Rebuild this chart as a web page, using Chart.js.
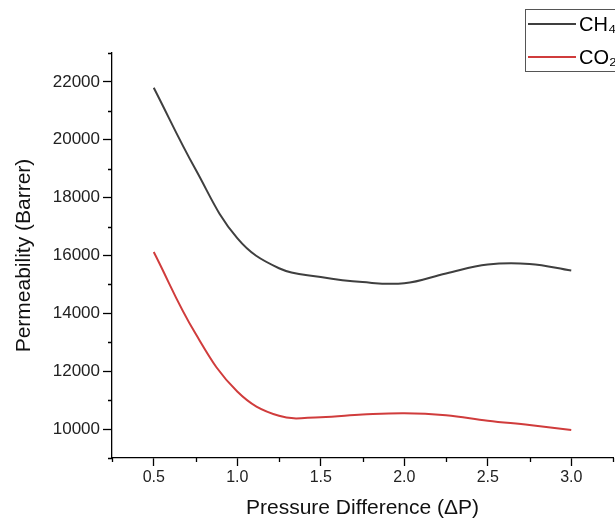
<!DOCTYPE html>
<html>
<head>
<meta charset="utf-8">
<script src="https://cdn.jsdelivr.net/npm/chart.js@4"></script>
<style>
    html, body { margin: 0; padding: 0; background: #fff; overflow: hidden; }
    canvas { display: block; }
</style>
</head>
<body>
<canvas id="perm-chart" width="615" height="525"></canvas>
<script>
// Pressure difference steps (x axis)
const pressureDiff = [0.5, 0.75, 1.0, 1.25, 1.5, 1.75, 2.0, 2.25, 2.5, 2.75, 3.0];

// Permeability in Barrer for each gas
const ch4Values = [21800, 18980, 16600, 15560, 15260, 15080, 15040, 15380, 15690, 15710, 15480];
const co2Values = [16120, 13300, 11300, 10460, 10410, 10500, 10550, 10480, 10290, 10140, 9970];

const seriesNames = ['CH\u2084', 'CO\u2082'];
const seriesColors = ['#3f3f3f', '#d03c3c'];

const FONT = 'Arial, "Liberation Sans", sans-serif';

const toPoints = (values) => pressureDiff.map((x, i) => ({ x: x, y: values[i] }));

// minor tick = label is empty
const isMajorX = (v) => Math.abs(v * 2 - Math.round(v * 2)) < 1e-6 && v > 0.3 && v < 3.1;
const isMajorY = (v) => Math.round(v / 1000) % 2 === 0;

// Short ticks for the minor steps, plus the boxed legend in the corner
const extrasPlugin = {
    id: 'extras',
    afterDraw(chart) {
        const ctx = chart.ctx;
        const { x, y } = chart.scales;
        const area = chart.chartArea;

        ctx.save();
        ctx.strokeStyle = '#000';
        ctx.lineWidth = 1.3;
        ctx.beginPath();
        x.ticks.forEach((t) => {
            if (isMajorX(t.value)) return;
            const px = Math.round(x.getPixelForValue(t.value)) + 0.5;
            ctx.moveTo(px, area.bottom);
            ctx.lineTo(px, area.bottom + 4);
        });
        y.ticks.forEach((t) => {
            if (isMajorY(t.value)) return;
            const py = Math.round(y.getPixelForValue(t.value)) + 0.5;
            ctx.moveTo(area.left, py);
            ctx.lineTo(area.left - 4, py);
        });
        ctx.stroke();

        // legend
        ctx.strokeStyle = '#555';
        ctx.lineWidth = 1;
        ctx.strokeRect(525.5, 9.5, 120, 62);
        ctx.font = '20px ' + FONT;
        ctx.textBaseline = 'middle';
        ctx.textAlign = 'left';
        const rows = [24, 57];
        chart.data.datasets.forEach((ds, i) => {
            ctx.strokeStyle = ds.borderColor;
            ctx.lineWidth = 2;
            ctx.beginPath();
            ctx.moveTo(528, rows[i]);
            ctx.lineTo(576, rows[i]);
            ctx.stroke();
            ctx.fillStyle = '#000';
            ctx.fillText(ds.label, 579, rows[i] + 1);
        });
        ctx.restore();
    },
};

const config = {
    type: 'line',
    data: {
        datasets: [
            {
                label: seriesNames[0],
                data: toPoints(ch4Values),
                borderColor: seriesColors[0],
                borderWidth: 2,
                pointRadius: 0,
                tension: 0.4,
            },
            {
                label: seriesNames[1],
                data: toPoints(co2Values),
                borderColor: seriesColors[1],
                borderWidth: 2,
                pointRadius: 0,
                tension: 0.4,
            },
        ],
    },
    options: {
        responsive: false,
        animation: false,
        layout: {
            padding: { top: 53, right: 1, left: 0, bottom: 0 },
        },
        plugins: {
            legend: { display: false },
            tooltip: { enabled: false },
        },
        scales: {
            x: {
                type: 'linear',
                min: 0.25,
                max: 3.25,
                afterFit: (scale) => { scale.height = 67; },
                border: { color: '#000', width: 1.3 },
                grid: {
                    drawOnChartArea: false,
                    tickLength: 8,
                    tickWidth: 1.3,
                    tickColor: (c) => (isMajorX(c.tick.value) ? '#000' : 'rgba(0,0,0,0)'),
                },
                ticks: {
                    stepSize: 0.25,
                    autoSkip: false,
                    maxRotation: 0,
                    padding: 2,
                    color: '#222',
                    font: { family: FONT, size: 16 },
                    callback: (v) => (isMajorX(v) ? Number(v).toFixed(1) : ''),
                },
                title: {
                    display: true,
                    text: 'Pressure Difference (\u0394P)',
                    color: '#111',
                    font: { family: FONT, size: 21 },
                    padding: { top: 0, bottom: 4 },
                },
            },
            y: {
                min: 9000,
                max: 23000,
                afterFit: (scale) => { scale.width = 112; },
                border: { color: '#000', width: 1.3 },
                grid: {
                    drawOnChartArea: false,
                    tickLength: 9,
                    tickWidth: 1.3,
                    tickColor: (c) => (isMajorY(c.tick.value) ? '#000' : 'rgba(0,0,0,0)'),
                },
                ticks: {
                    stepSize: 1000,
                    autoSkip: false,
                    padding: 3,
                    color: '#222',
                    font: { family: FONT, size: 17 },
                    callback: (v) => (isMajorY(v) ? String(v) : ''),
                },
                title: {
                    display: true,
                    text: 'Permeability (Barrer)',
                    color: '#111',
                    font: { family: FONT, size: 21 },
                    padding: { top: 12, bottom: 0 },
                },
            },
        },
    },
    plugins: [extrasPlugin],
};

const permChart = new Chart(document.getElementById('perm-chart'), config);
</script>
</body>
</html>
